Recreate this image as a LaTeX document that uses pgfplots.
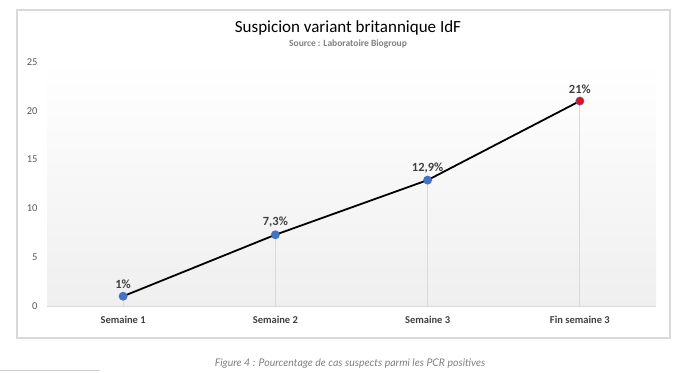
\documentclass[border=0pt]{standalone}
\usepackage{fontspec}
\setmainfont{Carlito}
\newfontfamily\capfont{Lato}
\usepackage{pgfplots}
\pgfplotsset{compat=1.18}
\definecolor{mblue}{HTML}{4472C4}
\definecolor{mred}{HTML}{E3101A}
\definecolor{txt}{HTML}{404040}
\definecolor{tickc}{HTML}{595959}
\definecolor{framec}{HTML}{D9D9D9}
\definecolor{bgc}{HTML}{EFEFEF}
\begin{document}
\begin{tikzpicture}
\useasboundingbox (0,0) rectangle (690pt,372pt);
\draw[framec, line width=1.2pt] (17pt,34pt) rectangle (670pt,362pt);
\node[font=\fontsize{17}{20}\selectfont, text=black] at (348pt,344pt) {Suspicion variant britannique IdF};
\node[font=\bfseries\fontsize{9.5}{11}\selectfont, text=gray] at (348pt,328pt) {Source : Laboratoire Biogroup};
\node[font=\capfont\itshape\fontsize{10.5}{12}\selectfont, text=gray] at (350pt,8pt) {Figure 4 : Pourcentage de cas suspects parmi les PCR positives};
\draw[gray!40, line width=0.6pt] (0pt,2pt) -- (100pt,2pt);
\begin{axis}[
  at={(47pt,66pt)}, anchor=south west,
  scale only axis, width=609pt, height=244pt,
  xmin=-0.5, xmax=3.5, ymin=0, ymax=25,
  xtick={0,1,2,3},
  xticklabels={Semaine 1, Semaine 2, Semaine 3, Fin semaine 3},
  ytick={0,5,10,15,20,25},
  axis x line*=bottom, axis y line*=left,
  x axis line style={framec, line width=0.8pt, -},
  y axis line style={draw=none},
  major tick length=0pt,
  /pgf/number format/assume math mode=true,
  yticklabel style={text=tickc, font=\fontsize{10.5}{12}\selectfont, xshift=-6pt},
  xticklabel style={text=txt, font=\bfseries\fontsize{10.5}{12}\selectfont, yshift=-7pt},
  axis background/.style={shade, top color=white, bottom color=bgc},
  clip=false,
]
\addplot[ycomb, framec, line width=0.8pt, no marks] coordinates {(0,1) (1,7.3) (2,12.9) (3,21)};
\addplot[black, line width=1.8pt, mark=*, mark size=3.5pt,
  mark options={draw=mblue, fill=mblue},
  point meta=explicit symbolic,
  nodes near coords,
  every node near coord/.append style={font=\bfseries\fontsize{12.5}{14}\selectfont, text=txt, yshift=3pt}]
  coordinates {(0,1) [1\%] (1,7.3) [7,3\%] (2,12.9) [12,9\%] (3,21) [21\%]};
\addplot[only marks, mark=*, mark size=3.5pt, draw=mred, fill=mred] coordinates {(3,21)};
\end{axis}
\end{tikzpicture}
\end{document}
